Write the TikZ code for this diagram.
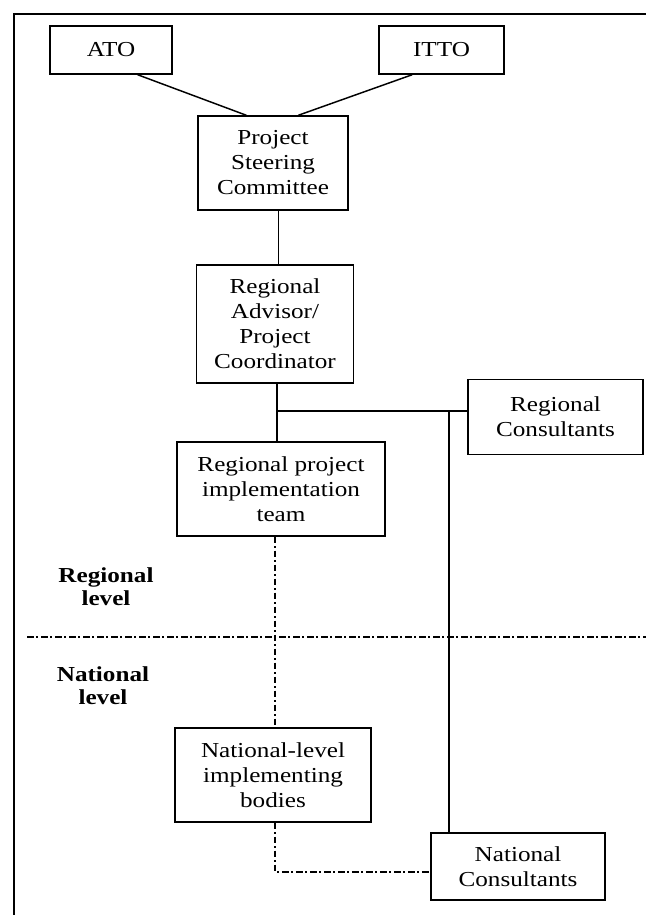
\documentclass[tikz,border=0pt]{standalone}
\usepackage{fontspec}
\setmainfont[FakeStretch=1.18]{Liberation Serif}
\usetikzlibrary{positioning}

\tikzset{
  unit/.style={draw,line width=1.1pt,align=center,inner sep=2pt,
    font=\fontsize{16}{18.75}\selectfont},
  levellabel/.style={align=center,font=\fontsize{16}{17.5}\selectfont\bfseries},
  dashdot/.style={line width=1.1pt,dash pattern=on 5pt off 2pt on 1.5pt off 2pt}
}

\begin{document}
\begin{tikzpicture}[x=0.75pt,y=-0.75pt,line width=1.1pt]
\useasboundingbox (0,0) rectangle (646,915);
% frame (top and left only)
\draw (14,915) -- (14,14) -- (646,14);
% ---------- boxes ----------
\node[unit,minimum width=91.5pt,minimum height=36pt] (ato) at (111,50) {ATO};
\node[unit,minimum width=94pt,minimum height=36pt] (itto) at (441.5,50) {ITTO};
\node[unit,minimum width=112.5pt,minimum height=70.5pt] (psc) at (273,163) {Project\\Steering\\Committee};
\node[unit,minimum width=118pt,minimum height=88.5pt] (rapc) at (275,324) {Regional\\Advisor/\\Project\\Coordinator};
\node[unit,minimum width=131pt,minimum height=56pt] (rc) at (555.5,417) {Regional\\Consultants};
\node[unit,minimum width=156pt,minimum height=70.5pt] (rpit) at (281,489) {Regional project\\implementation\\team};
\node[unit,minimum width=147pt,minimum height=70.5pt] (nlib) at (273,775) {National-level\\implementing\\bodies};
\node[unit,minimum width=130.5pt,minimum height=50pt] (nc) at (518,866.5) {National\\Consultants};
% ---------- level labels ----------
\node[levellabel] (reglab) at (106,587) {Regional\\level};
\node[levellabel] (natlab) at (103,686) {National\\level};
% ---------- solid links ----------
\draw ([xshift=20pt]ato.south) -- ([xshift=-20pt]psc.north);
\draw ([xshift=-22pt]itto.south) -- ([xshift=19pt]psc.north);
\draw ([xshift=4pt]psc.south) -- ([xshift=4pt]psc.south |- rapc.north);
\draw ([xshift=1.5pt]rapc.south) -- ([xshift=1.5pt]rapc.south |- rpit.north);
\coordinate (j1) at (277,411);
\coordinate (j2) at (449,411);
\draw (j1) -- (j1 -| rc.west);
\draw (j2) -- (j2 |- nc.north);
% ---------- dash-dot links ----------
\coordinate (sepl) at (27,637);
\coordinate (sepr) at (646,637);
\draw[dashdot] (sepl) -- (sepr);
\draw[dashdot] ([xshift=-4.5pt]rpit.south) -- ([xshift=-4.5pt]rpit.south |- nlib.north);
\draw[dashdot] ([xshift=1.5pt]nlib.south) |- ([yshift=-4pt]nc.west);
\end{tikzpicture}
\end{document}
